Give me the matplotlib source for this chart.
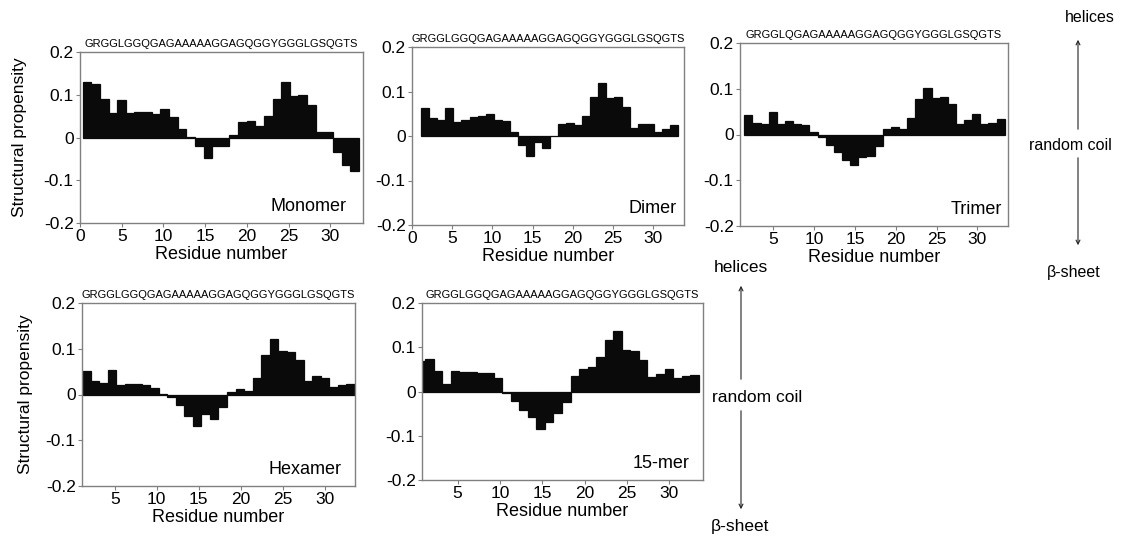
import numpy as np
import matplotlib
matplotlib.use("Agg")
import matplotlib.pyplot as plt
from matplotlib.ticker import FixedLocator, FuncFormatter

plt.rcParams["font.family"] = ["Liberation Sans", "DejaVu Sans"]
plt.rcParams["axes.unicode_minus"] = False

# structural propensity per residue for each oligomer state
monomer = [0.129, 0.125, 0.090, 0.057, 0.088, 0.057, 0.060, 0.060, 0.055, 0.066,
           0.047, 0.021, 0.002, -0.021, -0.049, -0.020, -0.020, 0.006, 0.037, 0.039,
           0.027, 0.051, 0.090, 0.129, 0.096, 0.100, 0.077, 0.013, 0.013, -0.034,
           -0.064, -0.078]
dimer = [0.063, 0.040, 0.035, 0.063, 0.031, 0.037, 0.043, 0.046, 0.050, 0.037,
         0.033, 0.009, -0.021, -0.046, -0.013, -0.027, 0.001, 0.028, 0.029, 0.024,
         0.046, 0.087, 0.119, 0.086, 0.087, 0.066, 0.018, 0.028, 0.028, 0.009,
         0.015, 0.025]
trimer = [0.042, 0.026, 0.023, 0.049, 0.022, 0.029, 0.024, 0.020, 0.006, -0.005,
          -0.023, -0.038, -0.056, -0.067, -0.050, -0.047, -0.026, 0.011, 0.016, 0.011,
          0.036, 0.078, 0.102, 0.079, 0.082, 0.066, 0.022, 0.031, 0.045, 0.023,
          0.026, 0.034]
hexamer = [0.051, 0.029, 0.025, 0.053, 0.020, 0.024, 0.024, 0.021, 0.014, 0.001,
           -0.005, -0.022, -0.046, -0.069, -0.042, -0.053, -0.028, 0.006, 0.011, 0.007,
           0.036, 0.087, 0.121, 0.096, 0.093, 0.076, 0.029, 0.040, 0.035, 0.016,
           0.020, 0.023]
mer15 = [0.070, 0.073, 0.047, 0.017, 0.047, 0.044, 0.045, 0.041, 0.041, 0.031,
         -0.004, -0.022, -0.041, -0.058, -0.084, -0.069, -0.048, -0.024, 0.036, 0.051,
         0.055, 0.077, 0.117, 0.136, 0.094, 0.091, 0.072, 0.032, 0.040, 0.051,
         0.031, 0.034, 0.038]

seq = "GRGGLGGQGAGAAAAAGGAGQGGYGGGLGSQGTS"
seq_trimer = "GRGGLQGAGAAAAAGGAGQGGYGGGLGSQGTS"
names = ["Monomer", "Dimer", "Trimer", "Hexamer", "15-mer"]
yticks = [-0.2, -0.1, 0, 0.1, 0.2]

W, H = 1127, 537
fig = plt.figure(figsize=(W / 100, H / 100), dpi=100)


def add_axes_px(left, top, right, bottom):
    return fig.add_axes([left / W, 1 - bottom / H, (right - left) / W, (bottom - top) / H])


def fmt(v, pos):
    v = round(v, 2)
    return "0" if v == 0 else f"{v:g}"


# box (px), xlim, first bar edge, bar width, x ticks, sequence, name inset (pt), ylabel gap (px)
panels = [
    (monomer, (80, 52, 363, 223), (0, 33.9), 0.32, 1.034, [0, 5, 10, 15, 20, 25, 30], seq, (-12, 6), 53),
    (dimer, (412, 47, 684, 225), (0, 33.8), 1.16, 0.998, [0, 5, 10, 15, 20, 25, 30], seq, (-5, 6), None),
    (trimer, (740, 43, 1008, 226), (0.92, 33.75), 1.45, 0.997, [5, 10, 15, 20, 25, 30], seq_trimer, (-4, 6), None),
    (hexamer, (82, 303, 355, 486), (1.11, 33.57), 1.11, 1.014, [5, 10, 15, 20, 25, 30], seq, (-10, 6), 49),
    (mer15, (422, 303, 703, 480), (0.79, 34.0), 0.17, 1.01, [5, 10, 15, 20, 25, 30], seq, (-10, 6), None),
]

for name, (vals, box, xlim, x0, w, xt, s, inset, ygap) in zip(names, panels):
    ax = add_axes_px(*box)
    x = x0 + w * np.arange(len(vals))
    ax.bar(x, vals, width=w, align="edge", color="#0a0a0a",
           edgecolor="#0a0a0a", linewidth=0.9)
    ax.set_xlim(*xlim)
    ax.set_ylim(-0.2, 0.2)
    ax.xaxis.set_major_locator(FixedLocator(xt))
    ax.yaxis.set_major_locator(FixedLocator(yticks))
    ax.yaxis.set_major_formatter(FuncFormatter(fmt))
    ax.tick_params(direction="out", length=3, width=0.8, color="#808080",
                   labelsize=12.5, pad=1.5)
    for sp in ax.spines.values():
        sp.set_color("#808080")
        sp.set_linewidth(1.0)
    ax.set_xlabel("Residue number", fontsize=13, labelpad=1)
    if ygap:
        ax.set_ylabel("Structural propensity", fontsize=12.5)
        ax.yaxis.set_label_coords(-ygap / (box[2] - box[0]), 0.5)
    ax.annotate(s, xy=(0.5, 1), xycoords="axes fraction", xytext=(0, 2),
                textcoords="offset points", ha="center", va="bottom", fontsize=8)
    ax.annotate(name, xy=(1, 0), xycoords="axes fraction", xytext=inset,
                textcoords="offset points", ha="right", va="bottom", fontsize=13)


def scale_arrow(x, top, mid_top, mid_bot, bottom, size, labels_xy):
    kw = dict(arrowstyle="->", color="#222222", lw=0.8, mutation_scale=7)
    fig.add_artist(matplotlib.patches.FancyArrowPatch(
        (x, H - mid_top), (x, H - top), transform=None, **kw))
    fig.add_artist(matplotlib.patches.FancyArrowPatch(
        (x, H - mid_bot), (x, H - bottom), transform=None, **kw))
    for txt, (tx, ty) in zip(["helices", "random coil", "\u03b2-sheet"], labels_xy):
        fig.text(tx / W, 1 - ty / H, txt, ha="center", va="center", fontsize=size)


scale_arrow(1078, 37, 132, 155, 248, 11.5, [(1090, 18), (1070, 145), (1074, 272)])
scale_arrow(741, 283, 382, 408, 512, 12.5, [(741, 268), (757, 397), (740, 527)])

fig.savefig("out.png", dpi=100)
